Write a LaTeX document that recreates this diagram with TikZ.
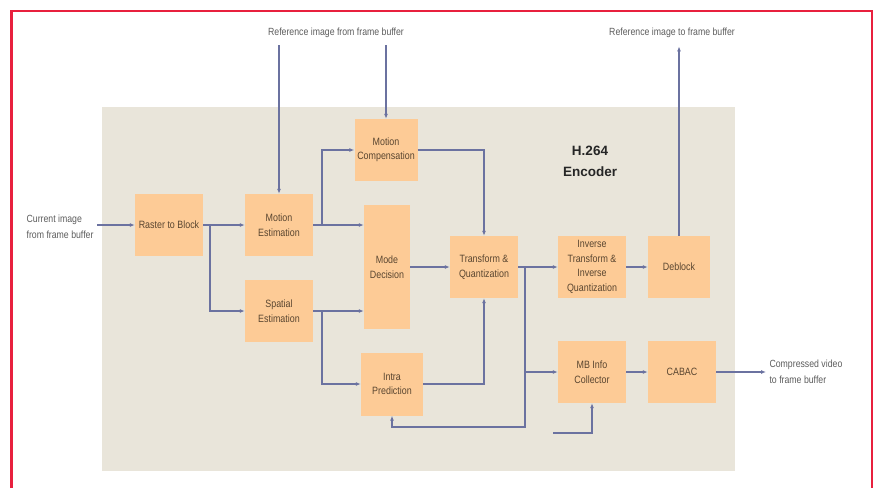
\documentclass[tikz,border=0pt]{standalone}
\usepackage{fontspec}
\setmainfont{Liberation Sans}
\newfontfamily\narrowfont{Liberation Sans}[FakeStretch=0.84]
\usetikzlibrary{arrows.meta,positioning,calc}

\definecolor{panelgray}{HTML}{E9E5DA}
\definecolor{boxorange}{HTML}{FDCB96}
\definecolor{flowblue}{HTML}{6B72A0}
\definecolor{boxtext}{HTML}{5A4630}
\definecolor{labelgray}{HTML}{5C5C5C}
\definecolor{framered}{HTML}{E8203E}

\begin{document}
\begin{tikzpicture}[x=1pt,y=-1pt,
	blk/.style={fill=boxorange,inner sep=0pt,minimum width=68pt,minimum height=62pt,
		align=center,text=boxtext,font=\narrowfont\fontsize{10.6}{14.5}\selectfont},
	lbl/.style={text=labelgray,align=left,font=\narrowfont\fontsize{10.4}{16}\selectfont},
	flow/.style={draw=flowblue,line width=1.2pt,-{Latex[length=5pt,width=4pt]}},
	wire/.style={draw=flowblue,line width=1.2pt}]
				\useasboundingbox (0,0) rectangle (874,488);
				\draw[framered,line width=2.2pt] (11.5,488) -- (11.5,11) -- (872,11) -- (872,488);
				\fill[panelgray] (102,107) rectangle (735,471);

				\foreach \nm/\x/\y/\txt in {raster/169/225/{Raster to Block},
					motest/279/225/{Motion\\Estimation},
					spatest/279/311/{Spatial\\Estimation},
					tq/484/267/{Transform \&\\Quantization},
					inv/592/267/{Inverse\\Transform \&\\Inverse\\Quantization},
					mbinfo/592/372/{MB Info\\Collector},
					cabac/682/372/{CABAC}}
				{
					\node[blk] (\nm) at (\x,\y) {\txt};
				}

				\node[blk,minimum width=63pt] (motcomp) at (386,150) {Motion\\Compensation};
				\node[blk,minimum width=46pt,minimum height=124pt] (mode) at (387,267) {Mode\\Decision};
				\node[blk,minimum width=62pt,minimum height=63pt] (intra) at (392,384) {Intra\\Prediction};
				\node[blk,minimum width=62pt] (deblock) at (679,267) {Deblock};

				\node[align=center,font=\fontsize{13.5}{21}\selectfont\bfseries,text=black!85] (enc) at (590,161) {H.264\\Encoder};

				\node[lbl,anchor=east] (cur) at (97,227) {Current image\\from frame buffer};
				\node[lbl] (refin) at (336,33) {Reference image from frame buffer};
				\node[lbl] (refout) at (672,33) {Reference image to frame buffer};
				\node[lbl,anchor=west] (cvid) at (766,372) {Compressed video\\to frame buffer};

				\coordinate (j1) at (210,225);
				\coordinate (j2) at (322,225);
				\coordinate (j3) at (322,311);
				\coordinate (j4) at (525,267);
				\coordinate (fb) at (525,427);
				\coordinate (mbin) at (553,433);

				% input side
				\draw[flow] (cur.east |- raster.west) -- (raster.west);
				\draw[flow] (raster.east) -- (motest.west);
				\draw[flow] (j1) |- (spatest.west);
				\draw[flow] (motest.north |- refin.south) ++(0,4) -- (motest.north);
				\draw[flow] (motcomp.north |- refin.south) ++(0,4) -- (motcomp.north);

				% estimation to decision
				\draw[flow] (motest.east) -- (motest.east -| mode.west);
				\draw[flow] (j2) |- (motcomp.west);
				\draw[flow] (spatest.east) -- (spatest.east -| mode.west);
				\draw[flow] (j3) |- (intra.west);

				% into transform
				\draw[flow] (motcomp.east) -| (tq.north);
				\draw[flow] (mode.east) -- (tq.west);
				\draw[flow] (intra.east) -| (tq.south);

				% output side
				\draw[flow] (tq.east) -- (inv.west);
				\draw[flow] (j4) |- (mbinfo.west);
				\draw[flow] (j4) -- (fb) -| (intra.south);
				\draw[flow] (inv.east) -- (deblock.west);
				\draw[flow] (deblock.north) -- ($(deblock.north |- refout.south)+(0,5)$);
				\draw[flow] (mbinfo.east) -- (cabac.west);
				\draw[flow] (cabac.east) -- (cvid.west);
				\draw[flow] (mbin) -| (mbinfo.south);
			\end{tikzpicture}
\end{document}
